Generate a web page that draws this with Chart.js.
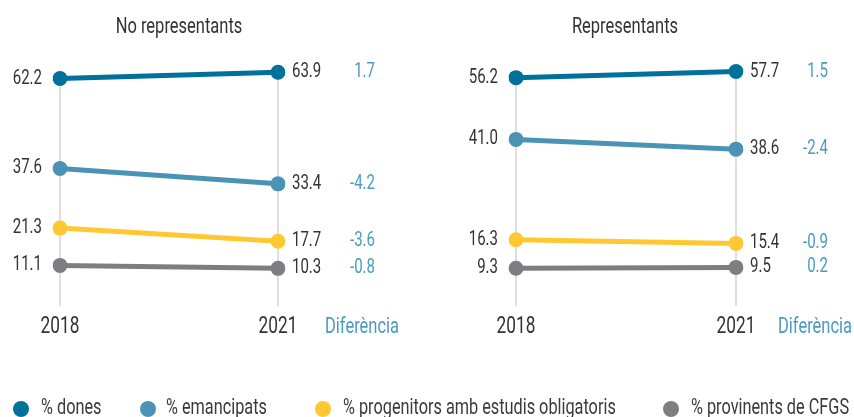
<!DOCTYPE html>
<html>
<head>
<meta charset="utf-8">
<script src="https://cdn.jsdelivr.net/npm/chart.js@4.4.0/dist/chart.umd.min.js"></script>
<style>
  body { margin: 0; background: #fff; width: 854px; height: 417px; overflow: hidden; position: relative; }
  .panel { position: absolute; top: 0; width: 427px; height: 345px; }
  #legend { position: absolute; left: 0; top: 0; width: 854px; height: 417px; pointer-events: none;
            font-family: Roboto, sans-serif; font-weight: 400; font-size: 22px; color: #3a3a3a; }
  .dot { position: absolute; top: 401px; width: 16px; height: 16px; border-radius: 50%; }
  .txt { position: absolute; top: 394px; white-space: nowrap; transform: scaleX(0.74); transform-origin: left top; line-height: 26px; }
</style>
</head>
<body>
<div class="panel" style="left:0"><canvas id="chartNoRep"></canvas></div>
<div class="panel" style="left:427px"><canvas id="chartRep"></canvas></div>
<div id="legend"></div>
<script>
const FONT = 'Roboto, sans-serif';
const SQUEEZE = 0.75; // condensed look

const years = ['2018', '2021'];
const seriesNames = ['% dones', '% emancipats', '% progenitors amb estudis obligatoris', '% provinents de CFGS'];
const seriesColors = ['#00719a', '#4a93b5', '#ffc832', '#7e7e82'];

// No representants
const noRepDones = [62.2, 63.9];
const noRepEmancipats = [37.6, 33.4];
const noRepProgenitors = [21.3, 17.7];
const noRepCfgs = [11.1, 10.3];

// Representants
const repDones = [56.2, 57.7];
const repEmancipats = [41.0, 38.6];
const repProgenitors = [16.3, 15.4];
const repCfgs = [9.3, 9.5];

const diffTitle = 'Diferència';

function squeezeText(ctx, text, x, y, align, size, color) {
    ctx.save();
    ctx.translate(x, y);
    ctx.scale(SQUEEZE, 1);
    ctx.font = '400 ' + size + 'px ' + FONT;
    ctx.fillStyle = color;
    ctx.textAlign = align;
    ctx.textBaseline = 'middle';
    ctx.fillText(text, 0, 0);
    ctx.restore();
}

// guide lines, title, years, value and difference labels
const slopePlugin = {
    id: 'slopeLabels',
    beforeDatasetsDraw(chart) {
        const { ctx, scales: { x, y }, chartArea } = chart;
        ctx.save();
        ctx.strokeStyle = '#d4d4d4';
        ctx.lineWidth = 1.5;
        years.forEach((yr, i) => {
            const top = Math.max(...chart.data.datasets.map(d => d.data[i]));
            const px = x.getPixelForValue(i);
            ctx.beginPath();
            ctx.moveTo(px, y.getPixelForValue(top));
            ctx.lineTo(px, chartArea.bottom);
            ctx.stroke();
        });
        ctx.restore();
    },
    afterDatasetsDraw(chart, args, opts) {
        const { ctx, scales: { x, y }, chartArea } = chart;
        chart.data.datasets.forEach(ds => {
            const a = ds.data[0], b = ds.data[1];
            squeezeText(ctx, a.toFixed(1), x.getPixelForValue(0) - 18, y.getPixelForValue(a), 'right', 20, '#333');
            squeezeText(ctx, b.toFixed(1), x.getPixelForValue(1) + 14, y.getPixelForValue(b), 'left', 20, '#333');
            squeezeText(ctx, (b - a).toFixed(1), chartArea.right + opts.diffX, y.getPixelForValue(b), 'right', 20, '#4a9ac2');
        });
        years.forEach((yr, i) => {
            squeezeText(ctx, yr, x.getPixelForValue(i), chartArea.bottom + 21, 'center', 23, '#333');
        });
        squeezeText(ctx, diffTitle, chartArea.right + opts.titleX, chartArea.bottom + 21, 'left', 22, '#4a9ac2');
        squeezeText(ctx, opts.title, opts.titleCenter, 27, 'center', 22, '#333');
    }
};

function makeChart(id, title, rows, yMax, padLeft, padRight, diffX, titleX, titleCenter) {
    const canvas = document.getElementById(id);
    canvas.width = 427;
    canvas.height = 345;
    return new Chart(canvas.getContext('2d'), {
        type: 'line',
        data: {
            labels: years,
            datasets: rows.map((r, i) => ({
                label: seriesNames[i],
                data: r,
                borderColor: seriesColors[i],
                backgroundColor: seriesColors[i],
                borderWidth: 5,
                pointRadius: 7.5,
                pointHoverRadius: 7.5,
                pointBorderWidth: 0
            }))
        },
        options: {
            responsive: false,
            animation: false,
            layout: { padding: { left: padLeft, right: padRight, top: 50, bottom: 39 } },
            plugins: {
                legend: { display: false },
                tooltip: { enabled: false },
                title: { display: false },
                slopeLabels: { diffX: diffX, titleX: titleX, title: title, titleCenter: titleCenter }
            },
            scales: {
                x: { display: false, offset: false },
                y: { display: false, min: 0, max: yMax }
            }
        },
        plugins: [slopePlugin]
    });
}

makeChart('chartNoRep', 'No representants',
    [noRepDones, noRepEmancipats, noRepProgenitors, noRepCfgs], 70, 60, 149, 97, 47, 179);
makeChart('chartRep', 'Representants',
    [repDones, repEmancipats, repProgenitors, repCfgs], 63, 89, 118, 92, 42, 198);

// shared legend
const legendDotX = [13, 140, 315, 663];
const legendTextX = [41, 166, 343, 691];
const legend = document.getElementById('legend');
seriesNames.forEach((name, i) => {
    const dot = document.createElement('div');
    dot.className = 'dot';
    dot.style.left = legendDotX[i] + 'px';
    dot.style.background = seriesColors[i];
    legend.appendChild(dot);
    const txt = document.createElement('div');
    txt.className = 'txt';
    txt.style.left = legendTextX[i] + 'px';
    txt.textContent = name;
    legend.appendChild(txt);
});
</script>
</body>
</html>
